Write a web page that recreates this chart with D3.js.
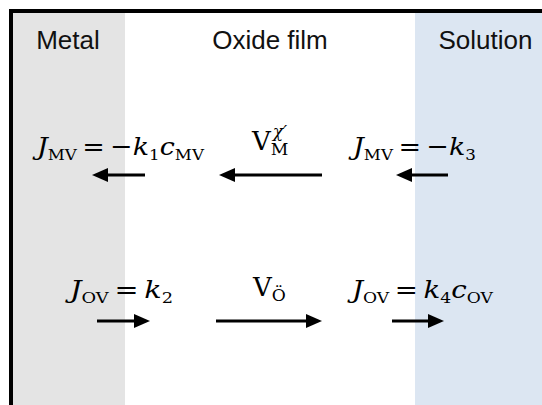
<!DOCTYPE html>
<html><head><meta charset="utf-8">
<script src="https://cdn.jsdelivr.net/npm/d3@7"></script>
<style>body{margin:0;background:#fff}svg{display:block}</style>
</head><body><svg id="c" width="542" height="405"></svg>
<script>
// ---- data ----
const regionNames = ["Metal", "Oxide film", "Solution"];
const regionFrom  = [0, 112, 402];      // layout units from inner frame edge
const regionTo    = [112, 402, 529];
const regionFill  = ["#e4e4e4", "#ffffff", "#dce6f2"];

// flux arrows: tail and tip (layout units), row index
const arrowTail = [132, 309, 435, 84, 203, 379];
const arrowTip  = [79, 206, 383, 137, 309, 431];
const arrowRow  = [0, 0, 0, 1, 1, 1];
const rowNames  = ["metal vacancy", "oxygen vacancy"];

// equations: tokens [text, kind]
const equations = [
  [["J","i"],["MV","sub"],["\u2009=\u2009","r"],["\u2212","r"],["k","i"],["1","sub"],["c","i"],["MV","sub"]],
  [["V","r"],["M","sub"],["\u03C7\u2032","supstack"]],
  [["J","i"],["MV","sub"],["\u2009=\u2009","r"],["\u2212","r"],["k","i"],["3","sub"]],
  [["J","i"],["OV","sub"],["\u2009=\u2009","r"],["k","i"],["2","sub"]],
  [["V","r"],["\u00D6","sub"]],
  [["J","i"],["OV","sub"],["\u2009=\u2009","r"],["k","i"],["4","sub"],["c","i"],["OV","sub"]]
];
const eqStart = [24, 239, 340, 57, 240, 339];
const eqRow   = [0, 0, 0, 1, 1, 1];
const eqWidth = [167, 0, 123, 103, 0, 141];

// ---- scales ----
const svg = d3.select("#c");
const x = d3.scaleLinear().domain([0, 529]).range([13, 542]);
const rowY = d3.scalePoint().domain([0, 1]).range([175, 321]);
const rowBase = d3.scaleOrdinal().domain([0, 1]).range([155, 298]);

// regions
svg.selectAll("rect.region").data(regionNames).join("rect")
  .attr("class","region")
  .attr("x",(d,i)=>x(regionFrom[i])).attr("y",13)
  .attr("width",(d,i)=>x(regionTo[i])-x(regionFrom[i])).attr("height",405-13)
  .attr("fill",(d,i)=>regionFill[i]);

// frame
svg.append("path").attr("d","M11,405 V11 H542").attr("fill","none")
  .attr("stroke","#000").attr("stroke-width",4);

// region labels
svg.selectAll("text.rl").data(regionNames).join("text")
  .attr("class","rl")
  .attr("x",(d,i)=>i===2? x(regionFrom[i]) + (542-x(regionFrom[i]))/2 + 7 : (i===0? x((regionFrom[i]+regionTo[i])/2)-1 : x((regionFrom[i]+regionTo[i])/2)))
  .attr("y",49)
  .attr("text-anchor","middle")
  .attr("font-family","Liberation Sans, Arial, sans-serif")
  .attr("font-size",26)
  .attr("fill","#111")
  .text(d=>d);

// arrows
const headL = 16, headW = 7;
arrowTail.forEach((t,i)=>{
  const y = rowY(arrowRow[i]);
  const xt = x(t), xp = x(arrowTip[i]);
  const dir = Math.sign(xp - xt);
  svg.append("line").attr("x1",xt).attr("x2",xp - dir*headL + dir*1)
    .attr("y1",y).attr("y2",y).attr("stroke","#000").attr("stroke-width",3);
  svg.append("path")
    .attr("d",`M${xp},${y} L${xp-dir*headL},${y-headW} L${xp-dir*headL},${y+headW} Z`)
    .attr("fill","#000");
});

// equations
const MF = "DejaVu Serif, serif";
equations.forEach((toks,ei)=>{
  const isV = eqWidth[ei] === 0;
  const FS = isV ? 26 : 25, SUBF = isV ? 0.66 : 0.62;
  const g = svg.append("g");
  let cx = 0, lastX = 0;
  const base = rowBase(eqRow[ei]) - (ei===1 ? 5 : (ei===4 ? 2 : 0));
  toks.forEach(([t,k])=>{
    const isSub = k==="sub", isSup = k==="supstack";
    const italic = k==="i" || isSup;
    const fs = (isSub||isSup) ? FS*SUBF : FS;
    const px = isSup ? lastX + 2 : cx;
    const dy = isSub ? FS*0.2 : (isSup ? -FS*0.5 : 0);
    const el = g.append("text").attr("x",px).attr("y",base+dy)
      .attr("font-family",MF).attr("font-size",fs)
      .attr("font-style",italic?"italic":"normal").attr("fill","#000").text(t);
    const w = el.node().getComputedTextLength();
    if (isSup) { cx = Math.max(cx, px + w); }
    else { lastX = cx; cx += w; }
  });
  let sx = 1;
  if (!isV) sx = eqWidth[ei] / cx;
  g.attr("transform",`translate(${x(eqStart[ei])},0) scale(${sx},1)`);
});
</script>
</body></html>
